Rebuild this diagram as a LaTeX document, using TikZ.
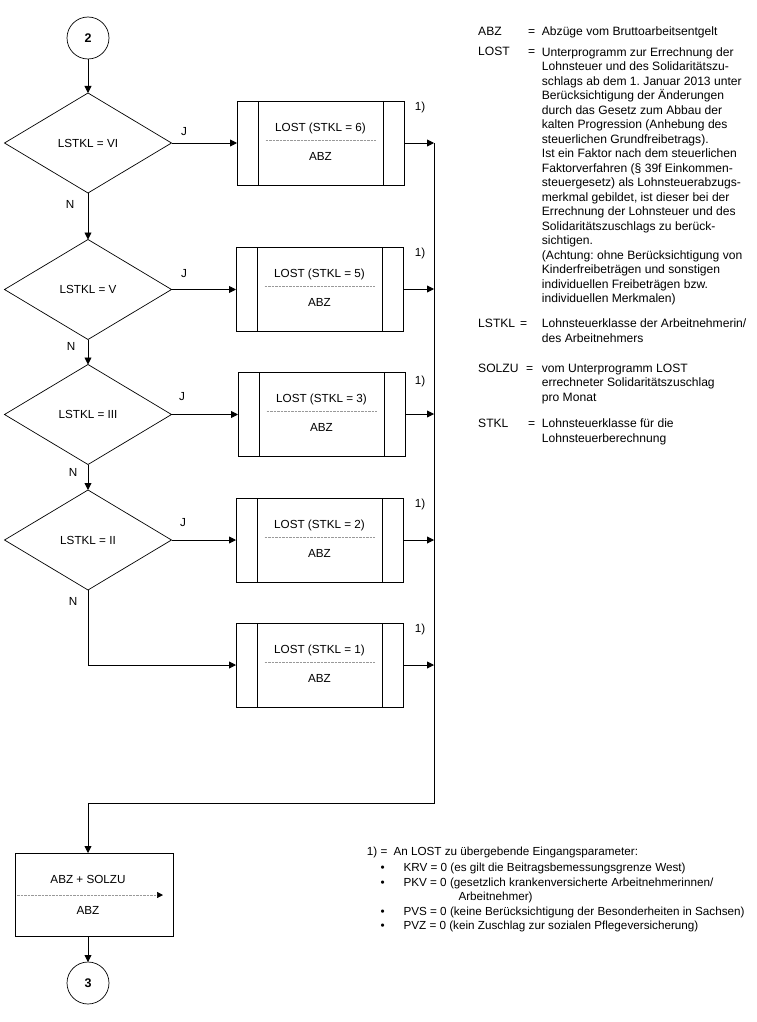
\documentclass[tikz,border=0pt]{standalone}
\usepackage{fontspec}
\setmainfont{Liberation Sans}
\usetikzlibrary{shapes.geometric,arrows.meta,calc}
\frenchspacing
\begin{document}
\begin{tikzpicture}[x=1pt,y=-1pt,
  every node/.style={font=\fontsize{11.7}{14}\selectfont},
  dec/.style={draw, shape=diamond, minimum width=167pt, minimum height=100pt, inner sep=0pt, outer sep=0pt, line width=0.7pt},
  proc/.style={draw, minimum width=167pt, minimum height=84pt, line width=0.9pt, inner sep=0pt, outer sep=0pt},
  conn/.style={draw, circle, minimum size=42pt, inner sep=0pt, outer sep=0pt, line width=0.7pt, font=\fontsize{12.5}{14}\selectfont\bfseries},
  tip/.style={-{Triangle[length=7pt,width=7pt]}},
  flow/.style={line width=0.9pt, tip},
  line/.style={line width=0.9pt},
  sep/.style={gray!80, line width=0.5pt, dash pattern=on 2.5pt off 1pt},
  lbl/.style={inner sep=0pt},
  lgd/.style={inner sep=0pt, anchor=base west, font=\fontsize{11.7}{14.5}\selectfont},
  lgdr/.style={inner sep=0pt, anchor=base west, font=\fontsize{12.1}{14.5}\selectfont},
  lgdm/.style={inner sep=0pt, anchor=north west, align=left, font=\fontsize{12.1}{14.5}\selectfont},
]
\fill[white] (0,0) rectangle (756,1022);
\useasboundingbox (0,0) rectangle (756,1022);

% connectors (top / bottom)
\node[conn] (c2) at (88,38) {2};
\node[conn] (c3) at (88,983) {3};

% decisions
\node[dec] (d1) at (88,143) {LSTKL = VI};
\node[dec] (d2) at (88,289.5) {LSTKL = V};
\node[dec] (d3) at (88,414.5) {LSTKL = III};
\node[dec] (d4) at (88,540) {LSTKL = II};

% predefined processes
\node[proc] (b1) at (320.5,143) {};
\node[proc] (b2) at (319.5,289) {};
\node[proc] (b3) at (321.5,414) {};
\node[proc] (b4) at (319.5,540) {};
\node[proc] (b5) at (319.5,665) {};

\foreach \b/\k in {b1/6,b2/5,b3/3,b4/2,b5/1}{
  \draw[line] ([xshift=21pt]\b.north west) -- ([xshift=21pt]\b.south west);
  \draw[line] ([xshift=-21pt]\b.north east) -- ([xshift=-21pt]\b.south east);
  \draw[sep] ($(\b.center)+(-55,-3)$) -- ($(\b.center)+(55,-3)$);
  \node[lbl] (\b t) at ($(\b.center)+(0,-15)$) {LOST (STKL = \k)};
  \node[lbl] (\b a) at ($(\b.center)+(0,13)$) {ABZ};
}

% final box
\node[draw, minimum width=158pt, minimum height=83pt, line width=0.9pt, inner sep=0pt, outer sep=0pt] (b6) at (94,894.5) {};
\node[lbl] (b6t) at (88,879) {ABZ + SOLZU};
\node[lbl] (b6a) at (88,910) {ABZ};
\draw[sep, -{Triangle[length=6pt,width=6pt,color=black]}] ($(b6.west)+(2,0.5)$) -- ($(b6.east)+(-10,0.5)$);

% trunk coordinates
\coordinate (tr) at (434,143);
\coordinate (tb) at (434,803);
\coordinate (tl) at (88,803);

% flow
\draw[flow] (c2) -- (d1);
\draw[flow] (d1.south) -- (d2.north);
\draw[flow] (d2.south) -- (d3.north);
\draw[flow] (d3.south) -- (d4.north);
\draw[flow] (d1.east) -- (d1.east -| b1.west);
\draw[flow] (d2.east) -- (d2.east -| b2.west);
\draw[flow] (d3.east) -- (d3.east -| b3.west);
\draw[flow] (d4.east) -- (d4.east -| b4.west);
\draw[flow] (d4.south) |- (b5.west);
\foreach \b in {b1,b2,b3,b4,b5}{
  \draw[flow] (\b.east) -- (\b.east -| tr);
}
\draw[flow] (tr) -- (tb) -- (tl) -- (tl |- b6.north);
\draw[flow] (b6.south -| c3) -- (c3.north);

% labels J / N / 1)
\node[lbl] (j1) at (184,132) {J};
\node[lbl] (j2) at (184,274) {J};
\node[lbl] (j3) at (182,397) {J};
\node[lbl] (j4) at (183,523) {J};
\node[lbl] (n1) at (70,204) {N};
\node[lbl] (n2) at (71,346.5) {N};
\node[lbl] (n3) at (73,472) {N};
\node[lbl] (n4) at (73,601) {N};
\foreach \y [count=\i] in {107,253,381,504,629}{
  \node[lbl] (f\i) at (420,\y) {1)};
}

% legend
\node[lgdr] (lab1) at (478,36) {ABZ};
\node[lgdr] (eq1) at (528,36) {=};
\node[lgdr] (des1) at (541.7,36) {Abzüge vom Bruttoarbeitsentgelt};

\node[lgdr] (lab2) at (478,56) {LOST};
\node[lgdr] (eq2) at (528,56) {=};
\node[lgdm] (des2) at (541.7,47.3) {Unterprogramm zur Errechnung der\\
Lohnsteuer und des Solidaritätszu-\\
schlags ab dem 1. Januar 2013 unter\\
Berücksichtigung der Änderungen\\
durch das Gesetz zum Abbau der\\
kalten Progression (Anhebung des\\
steuerlichen Grundfreibetrags).\\
Ist ein Faktor nach dem steuerlichen\\
Faktorverfahren (§ 39f Einkommen-\\
steuergesetz) als Lohnsteuerabzugs-\\
merkmal gebildet, ist dieser bei der\\
Errechnung der Lohnsteuer und des\\
Solidaritätszuschlags zu berück-\\
sichtigen.\\
(Achtung: ohne Berücksichtigung von\\
Kinderfreibeträgen und sonstigen\\
individuellen Freibeträgen bzw.\\
individuellen Merkmalen)};

\node[lgdr] (lab3) at (478,327.5) {LSTKL};
\node[lgdr] (eq3) at (520,327.5) {=};
\node[lgdm] (des3) at (541.7,318.8) {Lohnsteuerklasse der Arbeitnehmerin/\\des Arbeitnehmers};

\node[lgdr] (lab4) at (478,372.5) {SOLZU};
\node[lgdr] (eq4) at (526,372.5) {=};
\node[lgdm] (des4) at (541.7,363.8) {vom Unterprogramm LOST\\errechneter Solidaritätszuschlag\\pro Monat};

\node[lgdr] (lab5) at (478,427.5) {STKL};
\node[lgdr] (eq5) at (528,427.5) {=};
\node[lgdm] (des5) at (541.7,418.8) {Lohnsteuerklasse für die\\Lohnsteuerberechnung};

% footnote
\node[lgd] (fn0) at (366.7,855.2) {1) =};
\node[lgd] (fn1) at (393.3,855.2) {An LOST zu übergebende Eingangsparameter:};
\foreach \y/\t [count=\i] in {871.5/{KRV = 0 (es gilt die Beitragsbemessungsgrenze West)},
  886.2/{PKV = 0 (gesetzlich krankenversicherte Arbeitnehmerinnen/},
  915.2/{PVS = 0 (keine Berücksichtigung der Besonderheiten in Sachsen)},
  929.9/{PVZ = 0 (kein Zuschlag zur sozialen Pflegeversicherung)}}{
  \node[lgd] (bu\i) at (380.5,\y) {•};
  \node[lgd] (it\i) at (403.3,\y) {\t};
}
\node[lgd] (it2b) at (458.3,900.9) {Arbeitnehmer)};
\end{tikzpicture}
\end{document}
